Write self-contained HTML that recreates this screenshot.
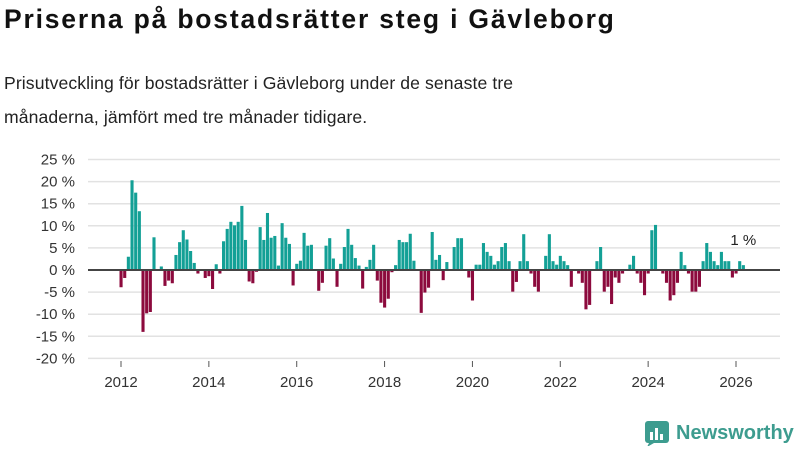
<!DOCTYPE html>
<html><head><meta charset="utf-8"><style>
body{margin:0;width:800px;height:450px;background:#fff;font-family:"Liberation Sans",sans-serif;overflow:hidden;position:relative}
h1{position:absolute;left:4px;top:4px;margin:0;font-size:26.5px;letter-spacing:1.8px;font-weight:bold;color:#111;white-space:nowrap}
p{position:absolute;left:4px;top:66px;margin:0;font-size:17.6px;letter-spacing:0.1px;line-height:34px;color:#222;width:790px;white-space:nowrap}
svg{position:absolute;left:0;top:0}
</style></head><body>
<h1>Priserna på bostadsrätter steg i Gävleborg</h1>
<p>Prisutveckling för bostadsrätter i Gävleborg under de senaste tre<br>månaderna, jämfört med tre månader tidigare.</p>
<svg id="chart" width="800" height="450"></svg>
<script>
const yTicks=[25,20,15,10,5,0,-5,-10,-15,-20];
const xTicks=[2012,2014,2016,2018,2020,2022,2024,2026];
const startYear=2012;
const values=[-3.9,-1.8,3,20.3,17.5,13.3,-14,-9.8,-9.5,7.4,0,0.8,
-3.6,-2.4,-3,3.4,6.3,9,6.9,4.3,1.6,-0.8,0,-1.8,
-1.4,-4.3,1.3,-0.8,6.5,9.3,10.9,10.1,10.9,14.5,6.8,-2.6,
-3,-0.4,9.7,6.8,12.9,7.3,7.7,1,10.6,7.3,5.9,-3.5,
1.4,2.1,8.4,5.5,5.7,0,-4.7,-2.9,5.5,7.2,2.6,-3.8,
1.4,5.2,9.3,5.7,2.7,1,-4.2,0.7,2.3,5.7,-2.4,-7.4,
-8.5,-6.5,-0.5,1.1,6.8,6.3,6.3,8.2,2.1,0,-9.7,-5.1,
-4,8.6,2.3,3.4,-2.3,1.8,0,5.2,7.2,7.2,0,-1.7,
-6.9,1.2,1.2,6.1,4.1,3.2,1.2,2,5.2,6.1,2,-4.9,
-2.7,2,8.1,2,-0.8,-3.8,-4.9,0,3.2,8.1,2,1.2,
3.2,2,1.1,-3.8,0,-0.8,-2.9,-8.9,-7.9,0,2,5.2,
-4.9,-3.8,-7.7,-1.7,-2.9,-0.8,0,1.2,3.2,-0.8,-2.9,-5.7,
-0.8,9,10.2,0,-0.8,-2.9,-6.9,-5.7,-2.9,4.1,1.1,-0.8,
-4.9,-4.9,-3.8,2,6.1,4.1,2,1.1,4.1,2,2,-1.7,
-0.8,2,1.1];
const lastLabel="1 %";
const svg=document.getElementById('chart');const NS='http://www.w3.org/2000/svg';
const y=v=>270-v*4.42;
const x=m=>121+m*615/168;
function mk(t,a){const e=document.createElementNS(NS,t);for(const k in a)e.setAttribute(k,a[k]);svg.appendChild(e);return e;}
yTicks.forEach(v=>{
 const g=mk('line',{x1:88,x2:780,y1:y(v),y2:y(v),stroke:'#e2e2e2','stroke-width':1.5});
 
 
 const t=mk('text',{x:75,y:y(v)+5,'text-anchor':'end','font-size':15,fill:'#333'});
 t.textContent=v+' %';
 
 
});
xTicks.forEach(yr=>{
 const xx=x((yr-startYear)*12);
 const l=mk('line',{x1:xx,x2:xx,y1:361,y2:367,stroke:'#555'});
 
 
 const t=mk('text',{x:xx,y:387,'text-anchor':'middle','font-size':15,fill:'#333'});
 t.textContent=yr;
 
 
});
values.forEach((v,i)=>{
 const xx=x(i);
 const r=mk('rect',{x:xx-1.5,width:3.1,y:Math.min(y(v),270),height:Math.abs(y(v)-270),fill:v>=0?'#13a096':'#8c0a3d'});
 
 
});
const z=mk('line',{x1:88,x2:780,y1:270,y2:270,stroke:'#444','stroke-width':2});


const li=values.length-1;
const lt=mk('text',{x:x(li),y:y(values[li])-20,'text-anchor':'middle','font-size':15,fill:'#222'});
lt.textContent=lastLabel;


</script>
<div style="position:absolute;left:644px;top:420px;display:flex;align-items:center;gap:6px">
<svg width="26" height="26" viewBox="0 0 26 26" style="position:static"><rect x="1" y="1" width="24" height="22" rx="3" fill="#3d9c8f"/><polygon points="5,23 3,27 10,23" fill="#3d9c8f"/><rect x="6" y="12" width="3" height="8" fill="#fff"/><rect x="11" y="8" width="3" height="12" fill="#fff"/><rect x="16" y="14" width="3" height="6" fill="#fff"/></svg>
<span style="font-size:20px;font-weight:bold;color:#3d9c8f">Newsworthy</span></div>
</body></html>
